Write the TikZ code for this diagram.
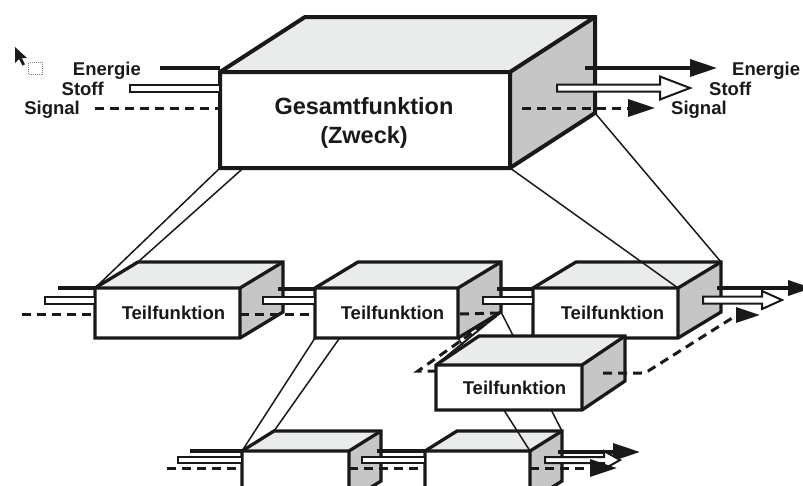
\documentclass[tikz,border=0pt]{standalone}
\usepackage{fontspec}
\setmainfont{Liberation Sans}
\usetikzlibrary{arrows.meta,calc}
\definecolor{topgray}{RGB}{234,235,235}
\definecolor{sidegray}{RGB}{197,198,197}
\definecolor{ink}{RGB}{25,25,25}

% corner points of a cuboid: #1 name, #2/#3 front top-left corner, #4 width, #5 height, #6/#7 depth offset
\newcommand\quaderpunkte[7]{%
  \coordinate (#1-ftl) at (#2,#3);
  \coordinate (#1-ftr) at (#2+#4,#3);
  \coordinate (#1-fbl) at (#2,#3+#5);
  \coordinate (#1-fbr) at (#2+#4,#3+#5);
  \coordinate (#1-btl) at (#2+#6,#3-#7);
  \coordinate (#1-btr) at (#2+#4+#6,#3-#7);
  \coordinate (#1-bbr) at (#2+#4+#6,#3+#5-#7);
  \coordinate (#1-bbl) at (#2+#6,#3+#5-#7);
}
% faces and edges of a cuboid whose points are defined
\newcommand\quader[2][boxline]{%
  \fill[topface] (#2-ftl) -- (#2-btl) -- (#2-btr) -- (#2-ftr) -- cycle;
  \fill[sideface] (#2-ftr) -- (#2-btr) -- (#2-bbr) -- (#2-fbr) -- cycle;
  \fill[white] (#2-ftl) rectangle (#2-fbr);
  \draw[#1] (#2-fbl) -- (#2-ftl) -- (#2-btl) -- (#2-btr) -- (#2-bbr) -- (#2-fbr) -- cycle;
  \draw[#1] (#2-ftl) -- (#2-ftr) -- (#2-btr) (#2-ftr) -- (#2-fbr);
}

% material flow: hollow pipe from #1 to #2, half width #3
\newcommand\stoffrohr[3]{%
  \draw[stoffline] ($(#1)+(0,-#3)$) rectangle ($(#2)+(0,#3)$);
}
% material flow with hollow head: #1 start, #2 tip, #3 half width, #4 head length, #5 head half width
\newcommand\stoffpfeil[5]{%
  \draw[stoffline] ($(#1)+(0,-#3)$) -- ($(#2)+(-#4,-#3)$) -- ($(#2)+(-#4,-#5)$) -- (#2)
    -- ($(#2)+(-#4,#5)$) -- ($(#2)+(-#4,#3)$) -- ($(#1)+(0,#3)$) -- cycle;
}

\begin{document}
\begin{tikzpicture}[x=1pt,y=-1pt,
  topface/.style={fill=topgray},
  sideface/.style={fill=sidegray},
  boxline/.style={line width=3.3pt,line join=miter,draw=ink},
  bigline/.style={boxline,line width=4pt},
  thinlink/.style={line width=1.5pt,draw=ink},
  energyline/.style={line width=3.5pt,draw=ink},
  signalline/.style={line width=3pt,draw=ink,dash pattern=on 9pt off 6pt},
  stoffline/.style={line width=2pt,draw=ink,fill=white,line join=miter},
  bigtip/.style={-{Triangle[length=27pt,width=17pt]}},
  midtip/.style={-{Triangle[length=24pt,width=15pt]}},
  lbl/.style={font=\bfseries\fontsize{18.5}{18.5}\selectfont,text=ink,inner sep=0pt},
  title/.style={font=\bfseries\fontsize{23.5}{29}\selectfont,text=ink,align=center,inner sep=0pt}
]
\useasboundingbox (0,0) rectangle (803,485);
\clip (0,0) rectangle (803,485);

% all cuboids
\quaderpunkte{G}{220}{72}{290}{96}{85}{55}
\quaderpunkte{A}{95}{288}{145}{50}{43}{26}
\quaderpunkte{B}{315}{288}{143}{50}{43}{26}
\quaderpunkte{C}{533}{288}{145}{50}{43}{26}
\quaderpunkte{D}{436}{365}{146}{45}{43}{29}
\quaderpunkte{E}{242}{451}{107}{50}{32}{20}
\quaderpunkte{F}{425}{451}{105}{50}{32}{20}

% mouse pointer and selection frame
\fill[ink] (15,47) -- (15,63) -- (19,59) -- (22.5,65.5) -- (25,64.3) -- (21.8,58) -- (27,58) -- cycle;
\draw[gray,line width=1pt,densely dotted] (28.5,62.5) rectangle (42.5,74.5);

% ---------- lowest level ----------
\quader{E}
\quader{F}

% decomposition of the second sub-function
\draw[thinlink] (B-fbl) -- (E-ftl);
\draw[thinlink] (B-bbl) -- (E-btl);
\draw[thinlink] (B-fbr) -- (F-ftr);
\draw[thinlink] (B-bbr) -- (F-btr);
\draw[thinlink,line width=1.9pt] (B-bbr) -- (D-ftl);

% ---------- middle level ----------
\quader{A}
\quader{B}
\quader{C}

% decomposition of the overall function
\draw[thinlink] (G-fbl) -- (A-ftl);
\draw[thinlink] (G-bbl) -- (A-btl);
\draw[thinlink] (G-fbr) -- (C-ftr);
\draw[thinlink] (G-bbr) -- (C-btr);

% ---------- top level ----------
\quader[bigline]{G}
\node[title] (gtext) at (364,122.5) {Gesamtfunktion\\(Zweck)};

% branch sub-function
\quader{D}

% labels of the sub-functions
\node[lbl] (tA) at (173.5,313) {Teilfunktion};
\node[lbl] (tB) at (392.5,313) {Teilfunktion};
\node[lbl] (tC) at (612.5,313) {Teilfunktion};
\node[lbl] (tD) at (514.5,388) {Teilfunktion};

% ---------- flows of the overall function ----------
\coordinate (eInG) at (160,68);
\coordinate (sInG) at (130,88);
\coordinate (gInG) at (95,108);
\draw[energyline] (eInG) -- (eInG -| G-ftl);
\stoffrohr{sInG}{sInG -| G-ftl}{3.5}
\draw[signalline] (gInG) -- (gInG -| G-ftl);

\coordinate (eOutG) at (585,68);
\coordinate (eTipG) at (717,68);
\coordinate (sOutG) at (557,88);
\coordinate (sTipG) at (690,88);
\coordinate (gOutG) at (522,108);
\coordinate (gTipG) at (655,108);
\draw[energyline,bigtip] (eOutG) -- (eTipG);
\stoffpfeil{sOutG}{sTipG}{3.5}{30}{11.5}
\draw[signalline,bigtip] (gOutG) -- (gTipG);

\node[lbl,anchor=base east] (lEin) at (141,75) {Energie};
\node[lbl,anchor=base east] (lSin) at (104,95) {Stoff};
\node[lbl,anchor=base east] (lGin) at (80,114) {Signal};
\node[lbl,anchor=base west] (lEout) at (732,75) {Energie};
\node[lbl,anchor=base west] (lSout) at (709,95) {Stoff};
\node[lbl,anchor=base west] (lGout) at (671,114) {Signal};

% ---------- flows of the middle level ----------
\coordinate (eInA) at (58,288);
\coordinate (sInA) at (45,300);
\coordinate (gInA) at (22,314);
\draw[energyline] (eInA) -- (eInA -| A-ftl);
\stoffrohr{sInA}{sInA -| A-ftl}{3.5}
\draw[signalline] (gInA) -- (gInA -| A-ftl);

\coordinate (eAB) at (278,289);
\coordinate (sAB) at (263,300);
\coordinate (gAB) at (240,314);
\draw[energyline] (eAB) -- (eAB -| B-ftl);
\stoffrohr{sAB}{sAB -| B-ftl}{3.5}
\draw[signalline] (gAB) -- (gAB -| B-ftl);

\coordinate (eBC) at (497,289);
\coordinate (sBC) at (483,300);
\draw[energyline] (eBC) -- (eBC -| C-ftl);
\stoffrohr{sBC}{sBC -| C-ftl}{3.5}

% signal branch through the lower sub-function
\coordinate (gB) at (460,314);
\coordinate (gBr) at (500,313);
\coordinate (gDl) at (418,371);
\draw[signalline] (gB) -- (gBr) -- (gDl) -- (gDl -| D-ftl);
\coordinate (gD) at (603,373);
\coordinate (gDr) at (645,373);
\coordinate (gCr) at (737,315);
\coordinate (gTipC) at (760,315);
\draw[signalline,midtip,rounded corners=4pt] (gD) -- (gDr) -- (gCr) -- (gTipC);

\coordinate (eOutC) at (717,288);
\coordinate (eTipC) at (812,288);
\coordinate (sOutC) at (703,300);
\coordinate (sTipC) at (782,300);
\draw[energyline,midtip] (eOutC) -- (eTipC);
\stoffpfeil{sOutC}{sTipC}{3.5}{20}{9}

% ---------- flows of the lowest level ----------
\coordinate (eInE) at (190,451);
\coordinate (sInE) at (178,460);
\coordinate (gInE) at (167,468);
\draw[energyline] (eInE) -- (eInE -| E-ftl);
\stoffrohr{sInE}{sInE -| E-ftl}{3}
\draw[signalline] (gInE) -- (gInE -| E-ftl);

\coordinate (eEF) at (377,451);
\coordinate (sEF) at (362,460);
\coordinate (gEF) at (349,468);
\draw[energyline] (eEF) -- (eEF -| F-ftl);
\stoffrohr{sEF}{sEF -| F-ftl}{3}
\draw[signalline] (gEF) -- (gEF -| F-ftl);

\coordinate (eOutF) at (558,452);
\coordinate (eTipF) at (640,452);
\coordinate (sOutF) at (545,460);
\coordinate (sTipF) at (620,460);
\coordinate (gOutF) at (530,468);
\coordinate (gTipF) at (617,468);
\draw[energyline,bigtip] (eOutF) -- (eTipF);
\stoffpfeil{sOutF}{sTipF}{3}{16}{9}
\draw[signalline,bigtip] (gOutF) -- (gTipF);
\end{tikzpicture}
\end{document}
